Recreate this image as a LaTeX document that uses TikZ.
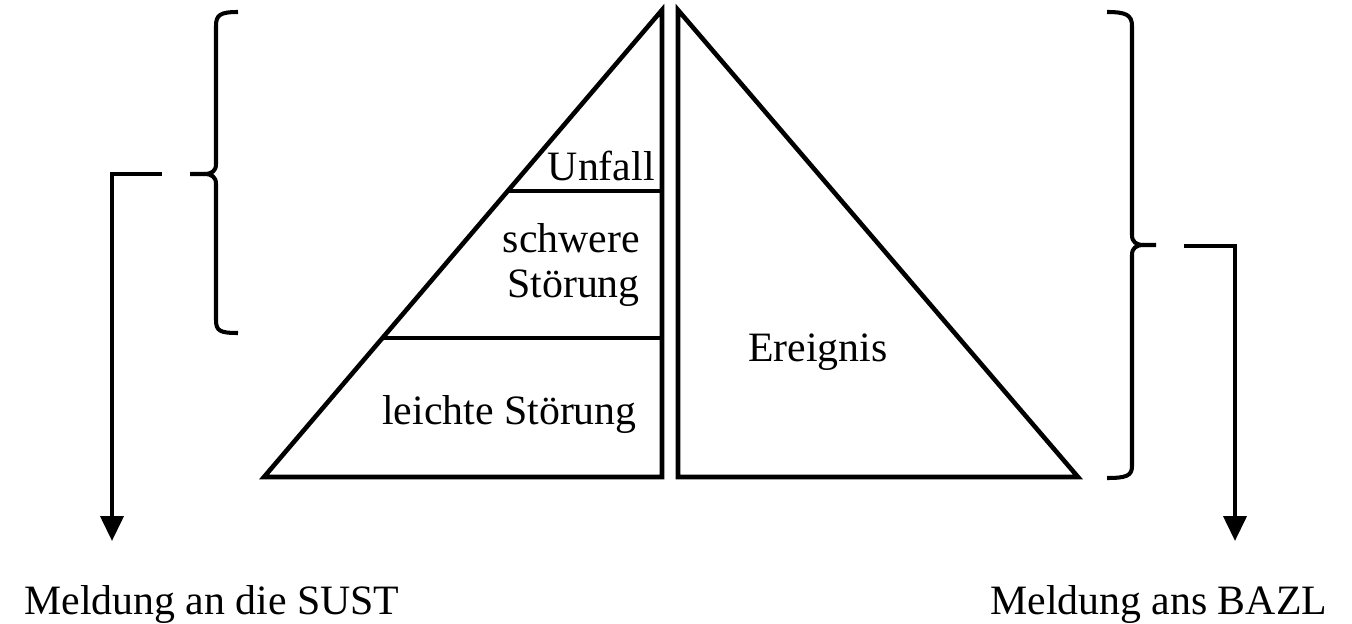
\documentclass[tikz,border=0pt]{standalone}
\usepackage{fontspec}
\setmainfont{Liberation Serif}
\usetikzlibrary{arrows.meta}

\begin{document}
\begin{tikzpicture}[
 x=0.02cm, y=-0.02cm,
 line width=2.6pt,
 >={Triangle[width=0.46cm,length=0.5cm]},
 label/.style={inner sep=0pt,font=\fontsize{23.8pt}{25.5pt}\selectfont},
 brace/.style={line width=2.3pt,line join=round},
 report/.style={line width=2.3pt,->}
]
\useasboundingbox (0,0) rectangle (1352,624);
% the two halves of the pyramid
\draw (662,10) -- (662,477) -- (264,477) -- cycle;
\draw (678,10) -- (678,477) -- (1078,477) -- cycle;
\draw (508,191) -- (662,191);
\draw (383,338) -- (662,338);
\node (unfall) [label, anchor=base east] at (657,181) {Unfall};
\node (schwere) [label, align=right, anchor=east] at (642,265) {schwere\\Störung};
\node (leichte) [label, anchor=base west] at (380,425) {leichte Störung};
\node (ereignis) [label, anchor=base west] at (746,362) {Ereignis};
% braces
\draw [brace] (238,12) .. controls (220,12) and (216,15) .. (216,26) -- (216,164)
 .. controls (216,171) and (212,174) .. (204,174) -- (190,174);
\draw [brace] (204,174) .. controls (212,174) and (216,177) .. (216,184) -- (216,320)
 .. controls (216,331) and (220,333) .. (238,333);
\draw [brace] (1107,12) .. controls (1126,12) and (1132,15) .. (1132,26) -- (1132,235)
 .. controls (1132,242) and (1136,245) .. (1144,245) -- (1156,245);
\draw [brace] (1144,245) .. controls (1136,245) and (1132,248) .. (1132,255) -- (1132,466)
 .. controls (1132,476) and (1126,478) .. (1107,478);
% reports
\node (sust-text) [label, anchor=base west] at (22,614) {Meldung an die SUST};
\node (bazl-text) [label, anchor=base west] at (988,614) {Meldung ans BAZL};
\coordinate (sust-start) at (162,174);
\coordinate (sust-end) at (112,541);
\coordinate (bazl-start) at (1184,246);
\coordinate (bazl-end) at (1235,541);
\draw [report] (sust-start) -| (sust-end);
\draw [report] (bazl-start) -| (bazl-end);
\end{tikzpicture}
\end{document}
